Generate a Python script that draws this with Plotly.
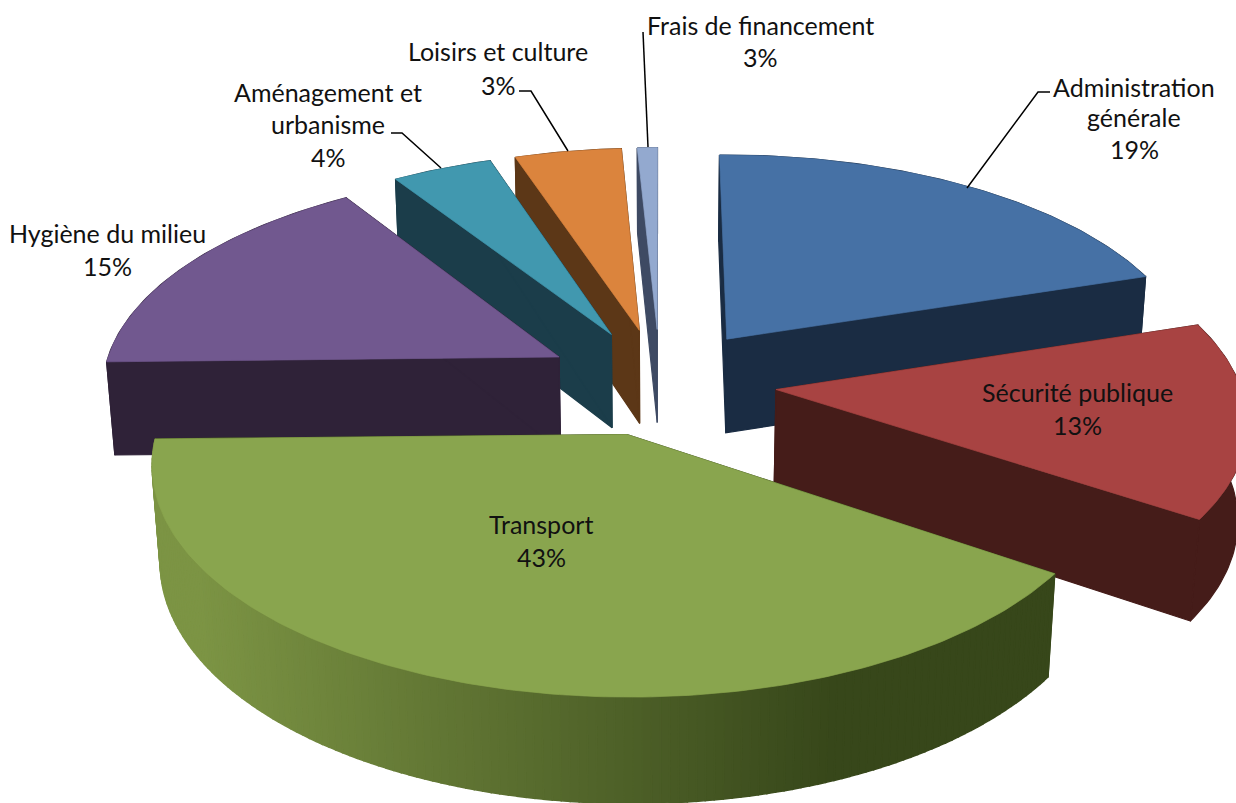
import numpy as np
import plotly.graph_objects as go

categories = ["Administration générale", "Sécurité publique", "Transport", "Hygiène du milieu",
              "Aménagement et urbanisme", "Loisirs et culture", "Frais de financement"]
printed_pct = [19, 13, 43, 15, 4, 3, 3]
# Angular shares as drawn in the picture (percent of the circle, clockwise from the top)
drawn_share = [20.0, 14.4, 40.25, 16.25, 4.03, 4.27, 0.8]
explode = [0.25, 0.25, 0.245, 0.25, 0.25, 0.25, 0.25]
radius = [1.0, 0.98, 0.995, 1.0, 1.0, 1.0, 1.0]
top_colors = ["#4671a5", "#a84342", "#89a54e", "#71588f", "#4198af", "#db843d", "#93a9cf"]
side_colors = ["#1a2c43", "#451c19", "#37471a", "#2f2238", "#1b3d4a", "#5c3717", "#3e4a63"]
paint_order = [0, 6, 5, 4, 3, 1, 2]

CX, CY, F, D, TILT, H, YAW = 660, 382, 3288, 7.07, np.radians(27.8), 0.235, 0.08


def project(x, y, z=0.0):
    u = y * np.sin(TILT) + z * np.cos(TILT)
    w = D + y * np.cos(TILT) - z * np.sin(TILT) - YAW * x
    return CX + F * x / w, CY - F * u / w


def poly(fig, px, py, color, lw=0.7):
    fig.add_trace(go.Scatter(x=list(px) + [px[0]], y=list(py) + [py[0]], mode="lines", fill="toself",
                             fillcolor=color, line=dict(color=color, width=lw),
                             hoverinfo="skip", showlegend=False))


def mix(a, b, t):
    ca = [int(a[i:i + 2], 16) for i in (1, 3, 5)]
    cb = [int(b[i:i + 2], 16) for i in (1, 3, 5)]
    return "rgb(%d,%d,%d)" % tuple(round(p + (q - p) * t) for p, q in zip(ca, cb))


fig = go.Figure()
bounds = np.concatenate([[0], np.cumsum(drawn_share)]) / sum(drawn_share) * 2 * np.pi

for i in paint_order:
    a0, a1 = bounds[i], bounds[i + 1]
    mid = (a0 + a1) / 2
    r = radius[i]
    ox, oy = explode[i] * np.sin(mid), explode[i] * np.cos(mid)
    ang = np.linspace(a0, a1, max(6, int((a1 - a0) * 60)))
    rx, ry = ox + r * np.sin(ang), oy + r * np.cos(ang)
    # radial walls of the shaded slice go under its outer wall
    if i == 2:
        for a in (a0, a1):
            ex, ey = ox + r * np.sin(a), oy + r * np.cos(a)
            xs, ys = project(np.array([ox, ex, ex, ox]), np.array([oy, ey, ey, oy]), np.array([0, 0, -H, -H]))
            poly(fig, xs, ys, side_colors[i], lw=1.2)
    # outer wall
    if i == 2:
        for k in range(len(ang) - 1):
            xs, ys = project(np.array([rx[k], rx[k + 1], rx[k + 1], rx[k]]),
                             np.array([ry[k], ry[k + 1], ry[k + 1], ry[k]]),
                             np.array([0, 0, -H, -H]))
            t = (830 - xs.mean()) / 630
            poly(fig, xs, ys, mix("#37471a", "#7c9444", min(1, max(0, t))), lw=1.5)
    else:
        tx, ty = project(rx, ry, 0.0)
        bx, by = project(rx[::-1], ry[::-1], -H)
        poly(fig, np.r_[tx, bx], np.r_[ty, by], side_colors[i], lw=1.2)
        for a in (a0, a1):
            ex, ey = ox + r * np.sin(a), oy + r * np.cos(a)
            xs, ys = project(np.array([ox, ex, ex, ox]), np.array([oy, ey, ey, oy]), np.array([0, 0, -H, -H]))
            poly(fig, xs, ys, side_colors[i], lw=1.2)
    # top face
    tx, ty = project(np.r_[ox, rx], np.r_[oy, ry], 0.0)
    poly(fig, tx, ty, top_colors[i])

# Leader lines (reading of the picture)
leaders = [([1050, 1038, 967], [92, 92, 188]),
           ([643, 648], [32, 147]),
           ([519, 531, 568], [91, 91, 151]),
           ([391, 402, 441], [133, 133, 168])]
for lx, ly in leaders:
    fig.add_trace(go.Scatter(x=lx, y=ly, mode="lines", line=dict(color="#000000", width=1.5),
                             hoverinfo="skip", showlegend=False))

labels = [
    (1134, [("Administration", 87), ("générale", 117), ("19%", 149)]),
    (1077, [("Sécurité publique", 392), ("13%", 425)]),
    (541, [("Transport", 524), ("43%", 557)]),
    (107, [("Hygiène du milieu", 233), ("15%", 266)]),
    (328, [("Aménagement et", 92), ("urbanisme", 124), ("4%", 157)]),
    (498, [("Loisirs et culture", 51), ("3%", 85)]),
    (760, [("Frais de financement", 25), ("3%", 57)]),
]
for x, rows in labels:
    for text, y in rows:
        fig.add_annotation(x=x, y=y, text=text, showarrow=False, xanchor="center", yanchor="middle",
                           font=dict(family="Lato", size=25, color="#111111"))

fig.update_layout(width=1236, height=803, margin=dict(l=0, r=0, t=0, b=0),
                  paper_bgcolor="white", plot_bgcolor="white", showlegend=False,
                  xaxis=dict(range=[0, 1236], visible=False, fixedrange=True),
                  yaxis=dict(range=[803, 0], visible=False, fixedrange=True))
fig.write_html("out.html", config={"displayModeBar": False},
               post_script="document.body.style.margin='0';document.body.style.overflow='hidden';")
